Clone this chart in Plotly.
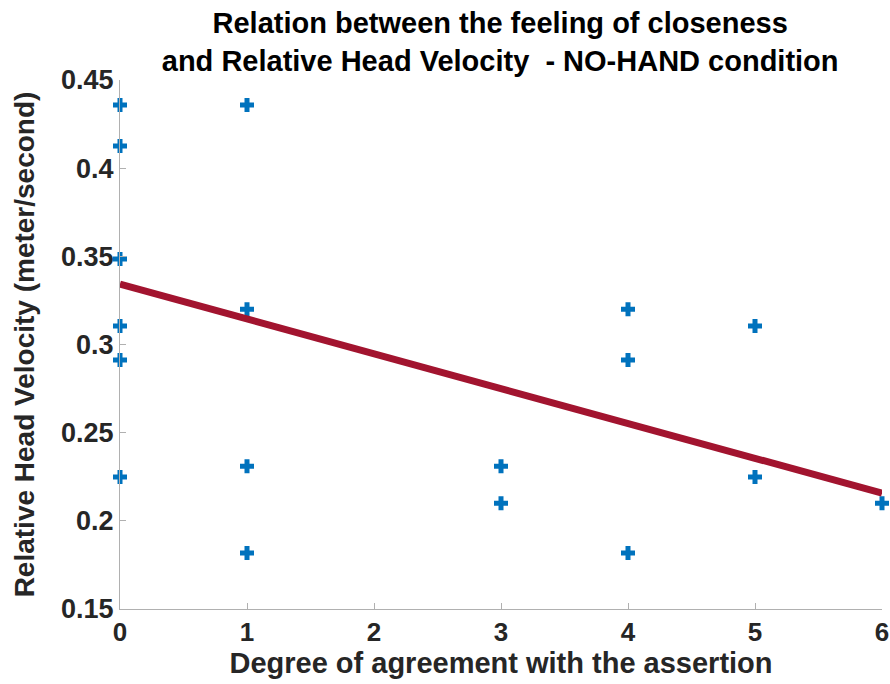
import plotly.graph_objects as go

agreement = [0, 0, 0, 0, 0, 0, 1, 1, 1, 1, 3, 3, 4, 4, 4, 5, 5, 6]
head_velocity = [0.4358, 0.4126, 0.3485, 0.3105, 0.2912, 0.2248,
                 0.4358, 0.3200, 0.2310, 0.1817,
                 0.2310, 0.2100,
                 0.3200, 0.2912, 0.1817,
                 0.3105, 0.2248,
                 0.2100]
fit_x = [0, 6]
fit_y = [0.3343, 0.2157]

x_ticks = [0, 1, 2, 3, 4, 5, 6]
y_ticks = [0.15, 0.2, 0.25, 0.3, 0.35, 0.4, 0.45]
y_ticktext = ["0.15", "0.2", "0.25", "0.3", "0.35", "0.4", "0.45"]

font_family = "Liberation Sans, Arial, sans-serif"

fig = go.Figure()
fig.add_trace(go.Scatter(
    x=agreement, y=head_velocity, mode="markers",
    marker=dict(symbol="cross-thin", size=10, color="#0072BD",
                line=dict(color="#0072BD", width=5)),
    showlegend=False, cliponaxis=False,
))
fig.add_trace(go.Scatter(
    x=fit_x, y=fit_y, mode="lines",
    line=dict(color="#A2142F", width=7),
    showlegend=False,
))

fig.update_layout(
    width=890, height=684,
    margin=dict(l=120, r=8, t=80, b=75, autoexpand=False),
    paper_bgcolor="white", plot_bgcolor="white",
    font=dict(family=font_family, color="#262626"),
    title=dict(
        text="<b>Relation between the feeling of closeness<br>and Relative Head Velocity  - NO-HAND condition</b>",
        x=0.562, xanchor="center", xref="container",
        y=0.952, yanchor="top", yref="container",
        font=dict(size=29, color="black", family=font_family),
    ),
    xaxis=dict(
        range=[0, 6], tickvals=x_ticks, ticktext=[str(v) for v in x_ticks],
        automargin=False,
        showgrid=False, zeroline=False, showline=True, linecolor="#b0b0b0", linewidth=1,
        ticks="inside", ticklen=6, tickcolor="#b0b0b0",
        tickfont=dict(size=26, family=font_family, color="#262626", weight="bold"),
        title=dict(text="<b>Degree of agreement with the assertion</b>",
                   font=dict(size=29, color="#262626"), standoff=4),
    ),
    yaxis=dict(
        range=[0.15, 0.45], tickvals=y_ticks, ticktext=y_ticktext,
        automargin=False,
        showgrid=False, zeroline=False, showline=True, linecolor="#b0b0b0", linewidth=1,
        ticks="inside", ticklen=6, tickcolor="#b0b0b0",
        tickfont=dict(size=27, family=font_family, color="#262626", weight="bold"),
        title=dict(text="<b>Relative Head Velocity (meter/second)</b>",
                   font=dict(size=28, color="#262626"), standoff=18),
    ),
)

fig.write_html("out.html", config={"displayModeBar": False},
               post_script="document.body.style.margin='0';")
